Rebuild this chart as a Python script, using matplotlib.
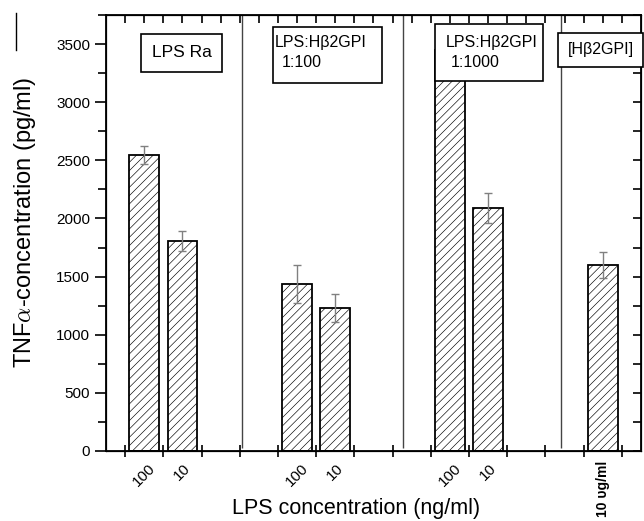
import matplotlib
matplotlib.use('Agg')
import matplotlib.pyplot as plt
from matplotlib.patches import Rectangle
from matplotlib.lines import Line2D
import numpy as np

plt.rcParams['font.family'] = ['Liberation Sans', 'DejaVu Sans']
plt.rcParams['mathtext.fontset'] = 'cm'
plt.rcParams['hatch.color'] = '#9a9a9a'
plt.rcParams['hatch.linewidth'] = 0.45

# bar centres (tick units) and readings
positions = [1.5, 2.5, 5.5, 6.5, 9.5, 10.5, 13.5]
labels = ['100', '10', '100', '10', '100', '10', '10 \u03c5g/ml']
tnf = [2545, 1806, 1436, 1229, 3450, 2089, 1599]
err = [75, 90, 163, 120, 0, 130, 112]
separators = [4.06, 8.27, 12.4]

fig = plt.figure(figsize=(6.44, 5.21), dpi=100)
ax = fig.add_axes([106/644, 1-451/521, 535/644, 436/521])

ax.bar(positions, tnf, width=0.78, color='white', edgecolor='black',
       linewidth=1.3, hatch='////', zorder=2)
for x, v, e in zip(positions, tnf, err):
	if e > 0:
		ax.errorbar(x, v, yerr=e, color='#808080', lw=1, capsize=3, zorder=3)

ax.vlines(separators, 25, 3750, color='#444444', lw=1, zorder=1)

ax.set_xlim(0.5, 14.5)
ax.set_ylim(0, 3750)

# y axis: outward ticks on the left
ax.set_yticks(np.arange(0, 3501, 500))
ax.set_yticks(np.arange(250, 3751, 500), minor=True)
ax.tick_params(axis='y', which='major', direction='out', length=8, width=1.2, labelsize=11)
ax.tick_params(axis='y', which='minor', direction='out', length=6, width=1.2)

# x axis: plain ticks at integers, labels under the bars
ax.set_xticks(np.arange(1, 15))
ax.set_xticklabels([])
ax.set_xticks(positions, minor=True)
ax.set_xticklabels(labels, minor=True, rotation=45, fontsize=11)
ax.tick_params(axis='x', which='major', direction='inout', length=9, width=1.2)
ax.tick_params(axis='x', which='minor', length=0, pad=7)
lab = ax.get_xticklabels(minor=True)[-1]
lab.set_rotation(90)
lab.set_fontweight('bold')
lab.set_fontsize(10)

for s in ax.spines.values():
	s.set_linewidth(1.3)

# top and right: inward ticks
axt = ax.twiny()
axt.set_xlim(ax.get_xlim())
axt.set_xticks(np.arange(1, 15))
axt.set_xticks(np.arange(1.5, 14.5, 1), minor=True)
axt.tick_params(axis='x', which='both', direction='in', length=6, width=1.2, labeltop=False)
axr = ax.twinx()
axr.set_ylim(ax.get_ylim())
axr.set_yticks(np.arange(0, 3501, 500))
axr.set_yticks(np.arange(250, 3751, 500), minor=True)
axr.tick_params(axis='y', which='both', direction='in', length=6, width=1.2, labelright=False)

ax.set_ylabel(r'TNF$\alpha$-concentration (pg/ml)', fontsize=17)
ax.yaxis.set_label_coords(-0.128, 0.525)
ax.set_xlabel('LPS concentration (ng/ml)', fontsize=15.5)
ax.xaxis.set_label_coords(0.467, -0.108)

# label boxes
boxes = [(0.0654, 0.8693, 0.1514, 0.0871), (0.3121, 0.8440, 0.2038, 0.1285),
         (0.6150, 0.8486, 0.2018, 0.1308), (0.8449, 0.8807, 0.1588, 0.0780)]
for x0, y0, w, h in boxes:
	axr.add_patch(Rectangle((x0, y0), w, h, transform=ax.transAxes, facecolor='white',
	                        edgecolor='black', lw=1.2, zorder=5, clip_on=False))
axr.text(0.142, 0.913, 'LPS Ra', transform=ax.transAxes, fontsize=12.5, ha='center', va='center', zorder=6)
axr.text(0.316, 0.936, 'LPS:H\u03b22GPI', transform=ax.transAxes, fontsize=11.5, ha='left', va='center', zorder=6)
axr.text(0.329, 0.890, '1:100', transform=ax.transAxes, fontsize=11.5, ha='left', va='center', zorder=6)
axr.text(0.6355, 0.938, 'LPS:H\u03b22GPI', transform=ax.transAxes, fontsize=11.5, ha='left', va='center', zorder=6)
axr.text(0.645, 0.890, '1:1000', transform=ax.transAxes, fontsize=11.5, ha='left', va='center', zorder=6)
axr.text(0.925, 0.920, '[H\u03b22GPI]', transform=ax.transAxes, fontsize=11.5, ha='center', va='center', zorder=6)

fig.add_artist(Line2D([16/644, 16/644], [1-13/521, 1-50/521], color='black', lw=1))

fig.savefig('out.png', dpi=100)
